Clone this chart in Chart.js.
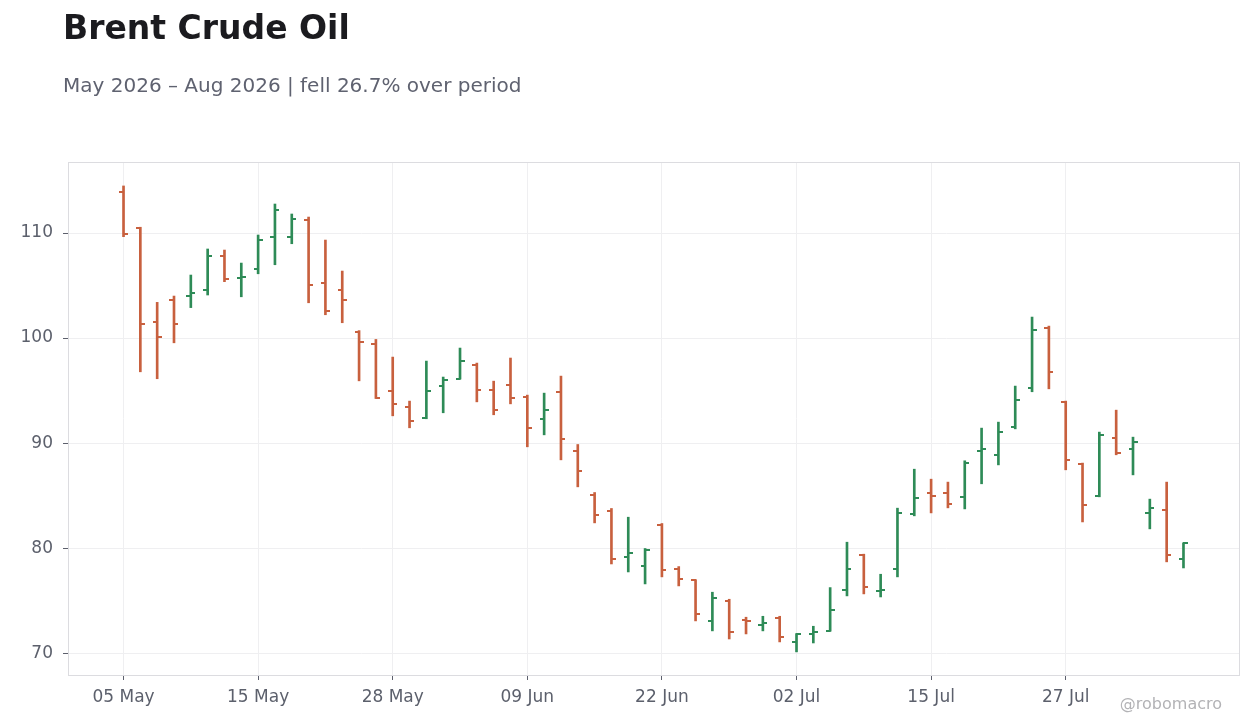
<!DOCTYPE html>
<html>
<head>
<meta charset="utf-8">
<script src="https://cdn.jsdelivr.net/npm/chart.js@4.4.1/dist/chart.umd.min.js"></script>
<style>
  html, body { margin: 0; padding: 0; background: #ffffff; }
  #wrap { position: relative; width: 1260px; height: 728px; overflow: hidden; font-family: "DejaVu Sans", sans-serif; }
  #c { position: absolute; left: 0; top: 0; }
  .title { position: absolute; left: 63px; top: 11px; font-size: 33px; line-height: 1; font-weight: bold; color: #1b1b1f; white-space: nowrap; }
  .subtitle { position: absolute; left: 63px; top: 75px; font-size: 20px; line-height: 1; color: #5f6270; white-space: nowrap; }
  .mark { position: absolute; right: 38px; top: 696px; font-size: 16px; line-height: 1; color: #b3b3b6; white-space: nowrap; }
</style>
</head>
<body>
<div id="wrap">
  <canvas id="c" width="1260" height="728"></canvas>
  <div class="title">Brent Crude Oil</div>
  <div class="subtitle">May 2026 – Aug 2026 | fell 26.7% over period</div>
  <div class="mark">@robomacro</div>
</div>
<script>
// Trading dates (categories)
const dates = [
  '05 May','06 May','07 May','08 May','11 May','12 May','13 May','14 May','15 May','18 May',
  '19 May','20 May','21 May','22 May','26 May','27 May','28 May','29 May','01 Jun','02 Jun',
  '03 Jun','04 Jun','05 Jun','08 Jun','09 Jun','10 Jun','11 Jun','12 Jun','15 Jun','16 Jun',
  '17 Jun','18 Jun','22 Jun','23 Jun','24 Jun','25 Jun','26 Jun','29 Jun','30 Jun','01 Jul',
  '02 Jul','06 Jul','07 Jul','08 Jul','09 Jul','10 Jul','13 Jul','14 Jul','15 Jul','16 Jul',
  '17 Jul','20 Jul','21 Jul','22 Jul','23 Jul','24 Jul','27 Jul','28 Jul','29 Jul','30 Jul',
  '31 Jul','03 Aug','04 Aug','05 Aug'
];
const openV = [
  113.93,110.45,101.55,103.65,104.05,104.60,107.84,105.70,106.60,109.65,
  109.65,111.27,105.27,104.60,100.60,99.46,94.98,93.46,92.41,95.46,
  96.13,97.46,95.08,95.56,94.41,92.32,94.89,89.27,85.08,83.55,
  79.17,78.31,82.22,78.00,76.95,73.08,75.00,73.17,72.70,73.40,
  71.08,71.84,72.13,76.03,79.36,75.93,78.03,83.27,85.27,85.27,
  84.89,89.27,88.89,91.55,95.27,100.98,93.93,88.03,84.98,90.51,
  89.46,83.36,83.65,78.98
];
const highV = [
  114.48,110.55,103.40,104.00,106.00,108.48,108.38,107.14,109.81,112.76,
  111.81,111.52,109.33,106.38,100.71,99.87,98.19,94.00,97.81,96.29,
  99.05,97.62,95.90,98.10,94.57,94.76,96.38,89.87,85.30,83.78,
  82.95,79.97,82.35,78.25,77.00,75.81,75.14,73.43,73.52,73.52,
  71.87,72.57,76.25,80.57,79.43,77.52,83.81,87.52,86.57,86.29,
  88.32,91.43,92.00,95.43,102.00,101.14,94.00,88.10,91.05,93.14,
  90.57,84.67,86.29,80.51
];
const lowV = [
  109.65,96.79,96.13,99.55,102.90,104.10,105.37,103.93,106.12,106.98,
  108.98,103.36,102.22,101.46,95.93,94.25,92.60,91.46,92.32,92.89,
  96.10,93.93,92.70,93.74,89.65,90.79,88.41,85.84,82.41,78.50,
  77.74,76.60,77.27,76.41,73.08,72.13,71.36,71.84,72.13,71.08,
  70.13,70.98,72.10,75.46,75.65,75.36,77.27,83.08,83.36,83.84,
  83.74,86.13,87.93,91.36,94.89,95.17,87.46,82.50,84.89,88.89,
  86.98,81.84,78.70,78.12
];
const closeV = [
  109.94,101.36,100.12,101.36,104.30,107.84,105.62,105.78,109.36,112.22,
  111.36,105.08,102.60,103.65,99.65,94.32,93.74,92.12,94.98,96.03,
  97.84,95.08,93.17,94.32,91.46,93.17,90.41,87.36,83.17,78.98,
  79.55,79.84,77.93,77.05,73.74,75.27,72.03,73.10,72.89,71.56,
  71.84,72.03,74.13,78.03,76.32,76.03,83.36,84.79,84.98,84.22,
  88.13,89.46,91.08,94.13,100.79,96.79,88.41,84.13,90.79,89.08,
  90.12,83.84,79.36,80.48
];
const tickIndex = [0, 8, 16, 24, 32, 40, 48, 56];
const yTicks = [70, 80, 90, 100, 110];

const UP = '#2e8b57';
const DOWN = '#c8603e';

function tickImg(color, side) {
  const cv = document.createElement('canvas');
  cv.width = 9; cv.height = 2;
  const g = cv.getContext('2d');
  g.fillStyle = color;
  if (side === 'left') g.fillRect(0, 0, 5, 2); else g.fillRect(4, 0, 5, 2);
  return cv;
}
const imgs = {
  upL: tickImg(UP, 'left'), upR: tickImg(UP, 'right'),
  dnL: tickImg(DOWN, 'left'), dnR: tickImg(DOWN, 'right')
};
const isUp = i => closeV[i] >= openV[i];

const wickData = dates.map((d, i) => ({ x: i, y: [lowV[i], highV[i]] }));
const openData = dates.map((d, i) => ({ x: i, y: openV[i] }));
const closeData = dates.map((d, i) => ({ x: i, y: closeV[i] }));

const frame = {
  id: 'frame',
  afterDraw(chart) {
    const a = chart.chartArea, ctx = chart.ctx;
    ctx.save();
    ctx.strokeStyle = '#dcdce0';
    ctx.lineWidth = 1;
    ctx.strokeRect(Math.round(a.left) + 0.5, Math.round(a.top) + 0.5, Math.round(a.right - a.left), Math.round(a.bottom - a.top));
    ctx.restore();
  }
};

new Chart(document.getElementById('c'), {
  type: 'bar',
  data: {
    datasets: [
      {
        type: 'bar',
        data: wickData,
        backgroundColor: dates.map((d, i) => isUp(i) ? UP : DOWN),
        barThickness: 2,
        borderWidth: 0,
        order: 2
      },
      {
        type: 'scatter',
        data: openData,
        pointStyle: dates.map((d, i) => isUp(i) ? imgs.upL : imgs.dnL),
        order: 1
      },
      {
        type: 'scatter',
        data: closeData,
        pointStyle: dates.map((d, i) => isUp(i) ? imgs.upR : imgs.dnR),
        order: 1
      }
    ]
  },
  options: {
    responsive: false,
    animation: false,
    events: [],
    layout: { padding: { top: 162, right: 21, left: 0, bottom: 0 } },
    plugins: { legend: { display: false }, tooltip: { enabled: false }, title: { display: false } },
    scales: {
      x: {
        type: 'linear',
        min: -3.3,
        max: 66.3,
        offset: false,
        afterBuildTicks: s => { s.ticks = tickIndex.map(v => ({ value: v })); },
        afterFit: s => { s.height = 53; },
        ticks: {
          autoSkip: false,
          maxRotation: 0,
          padding: 7,
          color: '#5c606c',
          font: { family: 'DejaVu Sans', size: 17 },
          callback: v => dates[v] !== undefined ? dates[v] : ''
        },
        grid: { offset: false, color: '#efeff1', tickColor: '#5c606c', tickLength: 5, lineWidth: 1 },
        border: { display: true, color: '#dcdce0' }
      },
      y: {
        type: 'linear',
        min: 67.93,
        max: 116.76,
        afterBuildTicks: s => { s.ticks = yTicks.map(v => ({ value: v })); },
        afterFit: s => { s.width = 68; },
        ticks: {
          padding: 10,
          color: '#5c606c',
          font: { family: 'DejaVu Sans', size: 17 }
        },
        grid: { offset: false, color: '#efeff1', tickColor: '#5c606c', tickLength: 5, lineWidth: 1 },
        border: { display: true, color: '#dcdce0' }
      }
    }
  },
  plugins: [frame]
});
</script>
</body>
</html>
